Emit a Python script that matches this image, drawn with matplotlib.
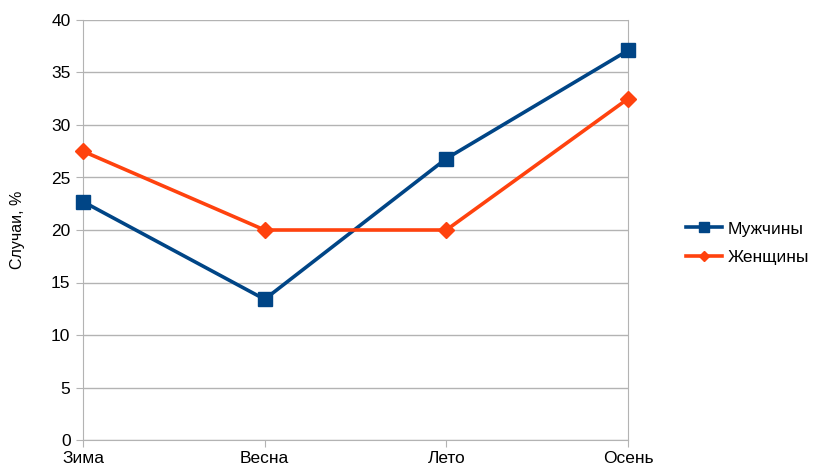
import matplotlib
matplotlib.use("Agg")
import matplotlib.pyplot as plt

plt.rcParams['font.family'] = ['Liberation Sans', 'DejaVu Sans']

seasons = ["Зима", "Весна", "Лето", "Осень"]
men = [22.7, 13.4, 26.8, 37.1]
women = [27.5, 20.0, 20.0, 32.5]

fig = plt.figure(figsize=(8.16, 4.73), dpi=100)
ax = fig.add_axes([83 / 816, 33 / 473, 545 / 816, 420 / 473])

x = range(len(seasons))
ax.plot(x, men, color="#004586", lw=2.6, marker="s", ms=10, label="Мужчины", zorder=3, clip_on=False)
ax.plot(x, women, color="#ff420e", lw=2.6, marker="D", ms=8, label="Женщины", zorder=3, clip_on=False)

ax.set_xlim(0, len(seasons) - 1)
ax.set_ylim(0, 40)
ax.set_yticks(range(0, 41, 5))
ax.set_xticks(list(x))
ax.set_xticklabels(seasons)
ax.yaxis.grid(True, color="#b3b3b3", lw=1)
ax.set_axisbelow(True)
for s in ["left", "right", "bottom"]:
    ax.spines[s].set_color("#b3b3b3")
ax.spines["top"].set_visible(False)
ax.tick_params(axis="both", colors="#b3b3b3", labelcolor="#000000", labelsize=12.5, length=5, direction="out")
ax.tick_params(axis="y", pad=4)
ax.tick_params(axis="x", pad=3)
ax.set_ylabel("Случаи, %", fontsize=11.5, labelpad=19)

ax.legend(loc="center left", bbox_to_anchor=(1.093, 0.469), frameon=False, fontsize=12.5,
          handlelength=2.1, handletextpad=0.3, labelspacing=0.75, markerscale=0.7,
          borderaxespad=0.0)

fig.savefig("out.png", dpi=100)
